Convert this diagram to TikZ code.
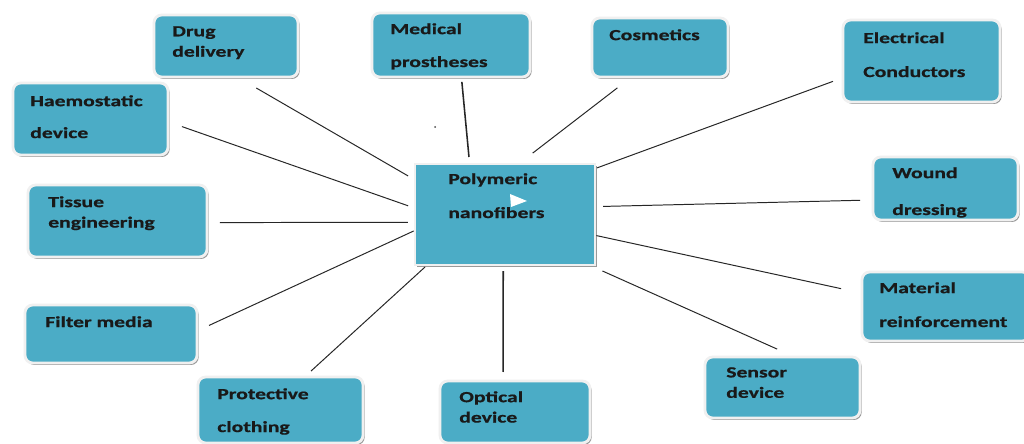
\documentclass[tikz,border=0pt]{standalone}
\usepackage{fontspec}
\newfontfamily\cardfont{Carlito}[FakeStretch=1.4, BoldFeatures={FakeBold=0.8}]
\usepackage{tikz}
\usetikzlibrary{fit, shadows}
\definecolor{cardteal}{RGB}{75,172,198}

\begin{document}
\begin{tikzpicture}[
  x=0.025cm, y=-0.025cm,
  card/.style={
    rounded corners=5.5pt, draw=black!6, fill=cardteal, line width=2pt,
    inner sep=0pt, outer sep=0pt,
    general shadow={fill=black!40, shadow xshift=1.2pt, shadow yshift=-1.4pt}
  },
  hubbox/.style={card, rounded corners=0pt},
  lbl/.style={
    font=\cardfont\bfseries\fontsize{11}{14.5}\selectfont, text=black!90,
    align=left, inner sep=0pt, anchor=north west
  },
  link/.style={draw=black!85, line width=0.7pt}
]
\clip (0,0) rectangle (1024,444);
\fill[white] (0,0) rectangle (1024,444);

% ----- centre -----
\node[hubbox, fit={(415,164) (595,265)}] (hub) {};
\node[lbl] (hubT) at (448,173) {Polymeric\\[9.6pt]nanofibers};
\fill[white] (510,194) -- (527,201) -- (511,207) -- cycle;
\fill[black!70] (435,127) circle (1);

% ----- top row -----
\node[card, fit={(154,15) (298,77)}] (drug) {};
\node[lbl] (drugT) at (172,26) {Drug\\delivery};
\node[card, fit={(372,13) (530,77)}] (prosth) {};
\node[lbl] (prosthT) at (390,23) {Medical\\[8.9pt]prostheses};
\node[card, fit={(592,18) (728,77)}] (cosm) {};
\node[lbl] (cosmT) at (609,29) {Cosmetics};
\node[card, fit={(843,20) (1000,102)}] (elec) {};
\node[lbl] (elecT) at (863,32) {Electrical\\[9.6pt]Conductors};

% ----- left column -----
\node[card, fit={(13,83) (168,155)}] (haemo) {};
\node[lbl] (haemoT) at (30,95) {Haemostatic\\[8.2pt]device};
\node[card, fit={(28,185) (207,257)}] (tissue) {};
\node[lbl] (tissueT) at (48,196) {Tissue\\engineering};
\node[card, fit={(25,305) (197,363)}] (filter) {};
\node[lbl] (filterT) at (45,316) {Filter media};

% ----- right column -----
\node[card, fit={(873,157) (1018,220)}] (wound) {};
\node[lbl] (woundT) at (892,167) {Wound\\[11.7pt]dressing};
\node[card, fit={(862,272) (1030,341)}] (reinf) {};
\node[lbl] (reinfT) at (879,282) {Material\\[9.6pt]reinforcement};

% ----- bottom row -----
\node[card, fit={(198,377) (363,443)}] (cloth) {};
\node[lbl] (clothT) at (217,388) {Protective\\[8.9pt]clothing};
\node[card, fit={(440,381) (590,443)}] (optic) {};
\node[lbl] (opticT) at (459,391) {Optical\\device};
\node[card, fit={(705,357) (860,418)}] (sensor) {};
\node[lbl] (sensorT) at (726,367) {Sensor\\device};

% spokes
\draw[link, shorten <=5.7pt, shorten >=15.6pt] (hub.159) -- (drug.290);
\draw[link, line width=1.1pt, shorten <=5pt, shorten >=3.5pt] (hub.125) -- (prosth.288);
\draw[link, shorten <=12.7pt, shorten >=12.7pt] (hub.75) -- (cosm.226);
\draw[link, shorten <=1.5pt, shorten >=7.6pt] (hub.27) -- (elec.192);
\draw[link, shorten <=5.2pt, shorten >=10.5pt] (hub.176) -- (haemo.358);
\draw[link, shorten <=5.7pt, shorten >=9.2pt] (hub.5) -- (wound.189);
\draw[link, shorten <=5pt, shorten >=9.2pt] (hub.185) -- (tissue.359);
\draw[link, shorten <=1pt, shorten >=9.4pt] (hub.190) -- (filter.2);
\draw[link, shorten <=2pt, shorten >=6.3pt] (hub.213) -- (cloth.54);
\draw[link, line width=1.1pt, shorten <=4.3pt, shorten >=6.4pt] (hub.268) -- (optic.111);
\draw[link, shorten <=10.4pt, shorten >=13.8pt] (hub.329) -- (sensor.68);
\draw[link, shorten <=1pt, shorten >=15.2pt] (hub.347) -- (reinf.171);

\end{tikzpicture}
\end{document}
